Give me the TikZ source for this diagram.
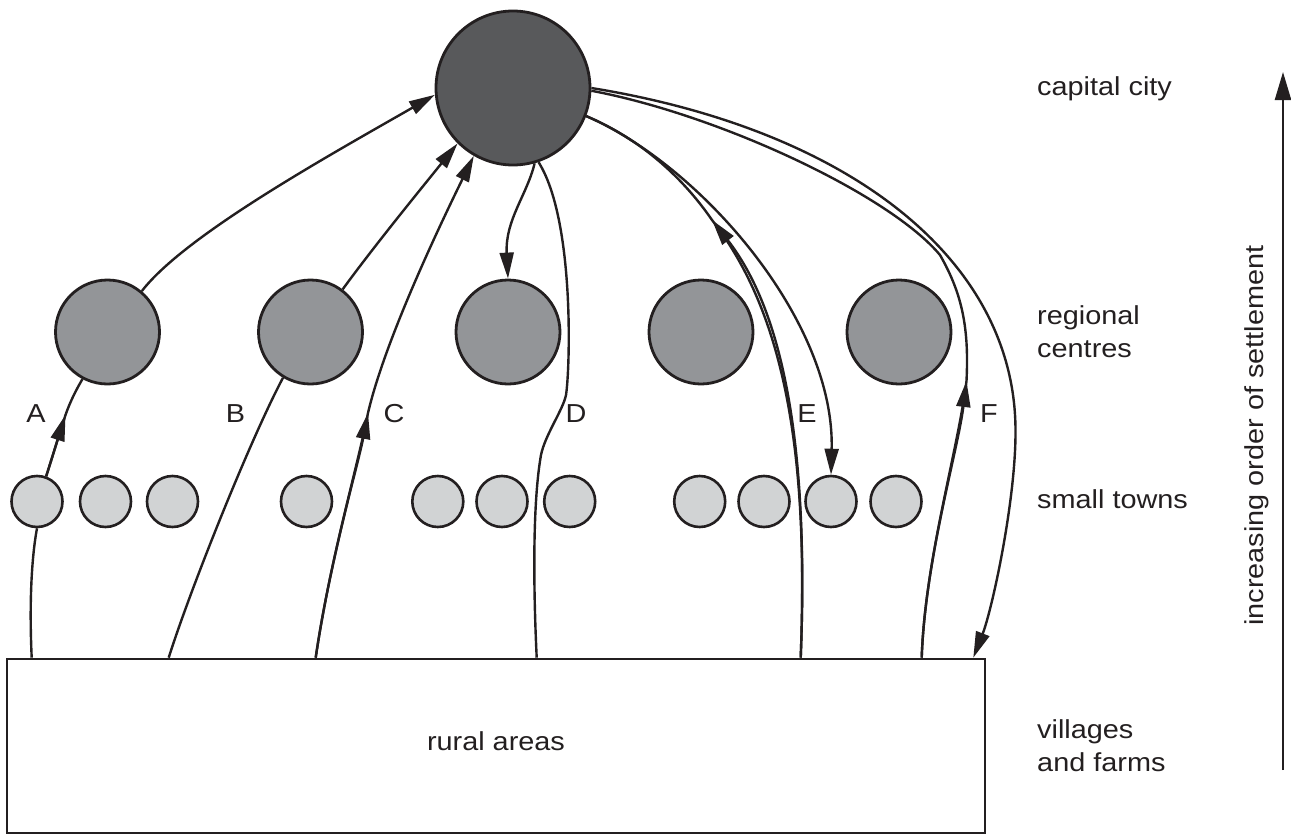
\documentclass[tikz,border=0pt]{standalone}
\usepackage{fontspec}
\setmainfont{Liberation Sans}[FakeStretch=1.11]
\usepackage{tikz}
\usetikzlibrary{arrows.meta}
\definecolor{capitalgrey}{HTML}{58595B}
\definecolor{regionalgrey}{HTML}{939598}
\definecolor{towngrey}{HTML}{D1D3D4}
\definecolor{ink}{HTML}{231F20}

\begin{document}
\begin{tikzpicture}[
    x=1pt, y=-1pt,
    every node/.style={font=\fontsize{26}{33}\selectfont, text=ink, inner sep=0pt},
    capital/.style={
        circle,
        draw=ink,
        line width=2.8pt,
        fill=capitalgrey,
        minimum size=154pt
    },
    regional/.style={
        circle,
        draw=ink,
        line width=2.8pt,
        fill=regionalgrey,
        minimum size=104pt
    },
    town/.style={
        circle,
        draw=ink,
        line width=2.6pt,
        fill=towngrey,
        minimum size=51pt
    },
    ruralbox/.style={
        rectangle,
        draw=ink,
        line width=2.6pt,
        minimum width=978pt,
        minimum height=174pt
    },
    link/.style={draw=ink, line width=2.4pt},
    arr/.style={-{Triangle[length=26pt,width=14pt]}}
]
    \useasboundingbox (0,0) rectangle (1291,835);

    % === SETTLEMENTS ===
    \node[capital] (capital) at (513,88) {};

    \foreach \x [count=\i] in {107.5,310.5,508,701,899}
        \node[regional] (reg\i) at (\x,332) {};

    \foreach \x [count=\i] in {37,105.5,172.5,306.5,437.8,502,569.7,699.7,764,831,896}
        \node[town] (town\i) at (\x,501.5) {};

    \node[ruralbox] (rural) at (496,746) {};
    \node[anchor=base] (ruraltext) at (496,750) {rural areas};

    % points on the rural box where the routes start
    \coordinate (ruA) at ([xshift=26pt]rural.north west);
    \coordinate (ruB) at ([xshift=163pt]rural.north west);
    \coordinate (ruC) at ([xshift=310pt]rural.north west);
    \coordinate (ruD) at ([xshift=531pt]rural.north west);
    \coordinate (ruE) at ([xshift=795pt]rural.north west);
    \coordinate (ruF) at ([xshift=916pt]rural.north west);
    \coordinate (ruFend) at ([xshift=-13pt]rural.north east);

    % arrow heads part way along a route
    \coordinate (aMid) at (65.5,415);
    \coordinate (cMid) at (368,413);
    \coordinate (eMid) at (712,220);
    \coordinate (fMid) at (966.5,381);

    % === ROUTE A ===
    \draw[link] (ruA) .. controls (29,600) and (32,555) .. (town1.south);
    \draw[link] (town1.70) .. controls (52,458) and (60,432) .. (aMid)
        .. controls (70,402) and (76,390) .. (reg1.242);
    \draw[link,arr] (town1.70) .. controls (52,458) and (60,432) .. (aMid);
    \draw[link,arr] (reg1.50) .. controls (185,235) and (330,155) .. (capital.185);

    % === ROUTE B ===
    \draw[link] (ruB) .. controls (190,590) and (250,440) .. (reg2.239);
    \draw[link,arr] (reg2.53) .. controls (375,245) and (420,190) .. (capital.225);

    % === ROUTE C ===
    \draw[link,arr] (ruC) .. controls (330,560) and (358,465) .. (cMid)
        .. controls (385,340) and (440,225) .. (capital.240);
    \draw[link,arr] (ruC) .. controls (330,560) and (358,465) .. (cMid);

    % === ROUTE D ===
    \draw[link] (ruD) .. controls (533,580) and (533,500) .. (541,455)
        .. controls (545,435) and (563,410) .. (566,395)
        .. controls (570,370) and (575,220) .. (capital.289);
    \draw[link,arr] (capital.286) .. controls (527,195) and (505,220) .. (reg3.north);

    % === ROUTE E ===
    \draw[link] (ruE) .. controls (808,470) and (790,320) .. (eMid)
        .. controls (690,188) and (650,143) .. (capital.339);
    \draw[link,arr] (ruE) .. controls (808,470) and (790,320) .. (eMid);
    \draw[link,arr] (capital.339) .. controls (700,165) and (835,320) .. (town10.north);

    % === ROUTE F ===
    \draw[link] (ruF) .. controls (925,560) and (958,450) .. (fMid)
        .. controls (969,330) and (963,295) .. (940,255)
        .. controls (890,195) and (720,115) .. (capital.358);
    \draw[link,arr] (ruF) .. controls (925,560) and (958,450) .. (fMid);
    \draw[link,arr] (capital.0) .. controls (850,130) and (1015,260) .. (1015.5,430)
        .. controls (1016,500) and (992,610) .. (ruFend);

    % route letters
    \foreach \l/\x in {A/36,B/235.5,C/394,D/576,E/807,F/989}
        \node (lab\l) at (\x,414) {\l};

    % === LEVEL LABELS ===
    \node[anchor=base west] (lcapital) at (1037,95) {capital city};
    \node[anchor=base west, align=left] (lregional) at (1037,357) {regional\\centres};
    \node[anchor=base west] (ltowns) at (1037,508) {small towns};
    \node[anchor=base west, align=left] (lvillages) at (1037,771) {villages\\and farms};

    % === ORDER AXIS ===
    \coordinate (axisBot) at (1283,770);
    \coordinate (axisTop) at (1283,72);
    \draw[link, -{Triangle[length=28pt,width=16pt]}] (axisBot) -- (axisTop);
    \node[rotate=90] (axislabel) at (1257,435.5) {increasing order of settlement};
\end{tikzpicture}
\end{document}
